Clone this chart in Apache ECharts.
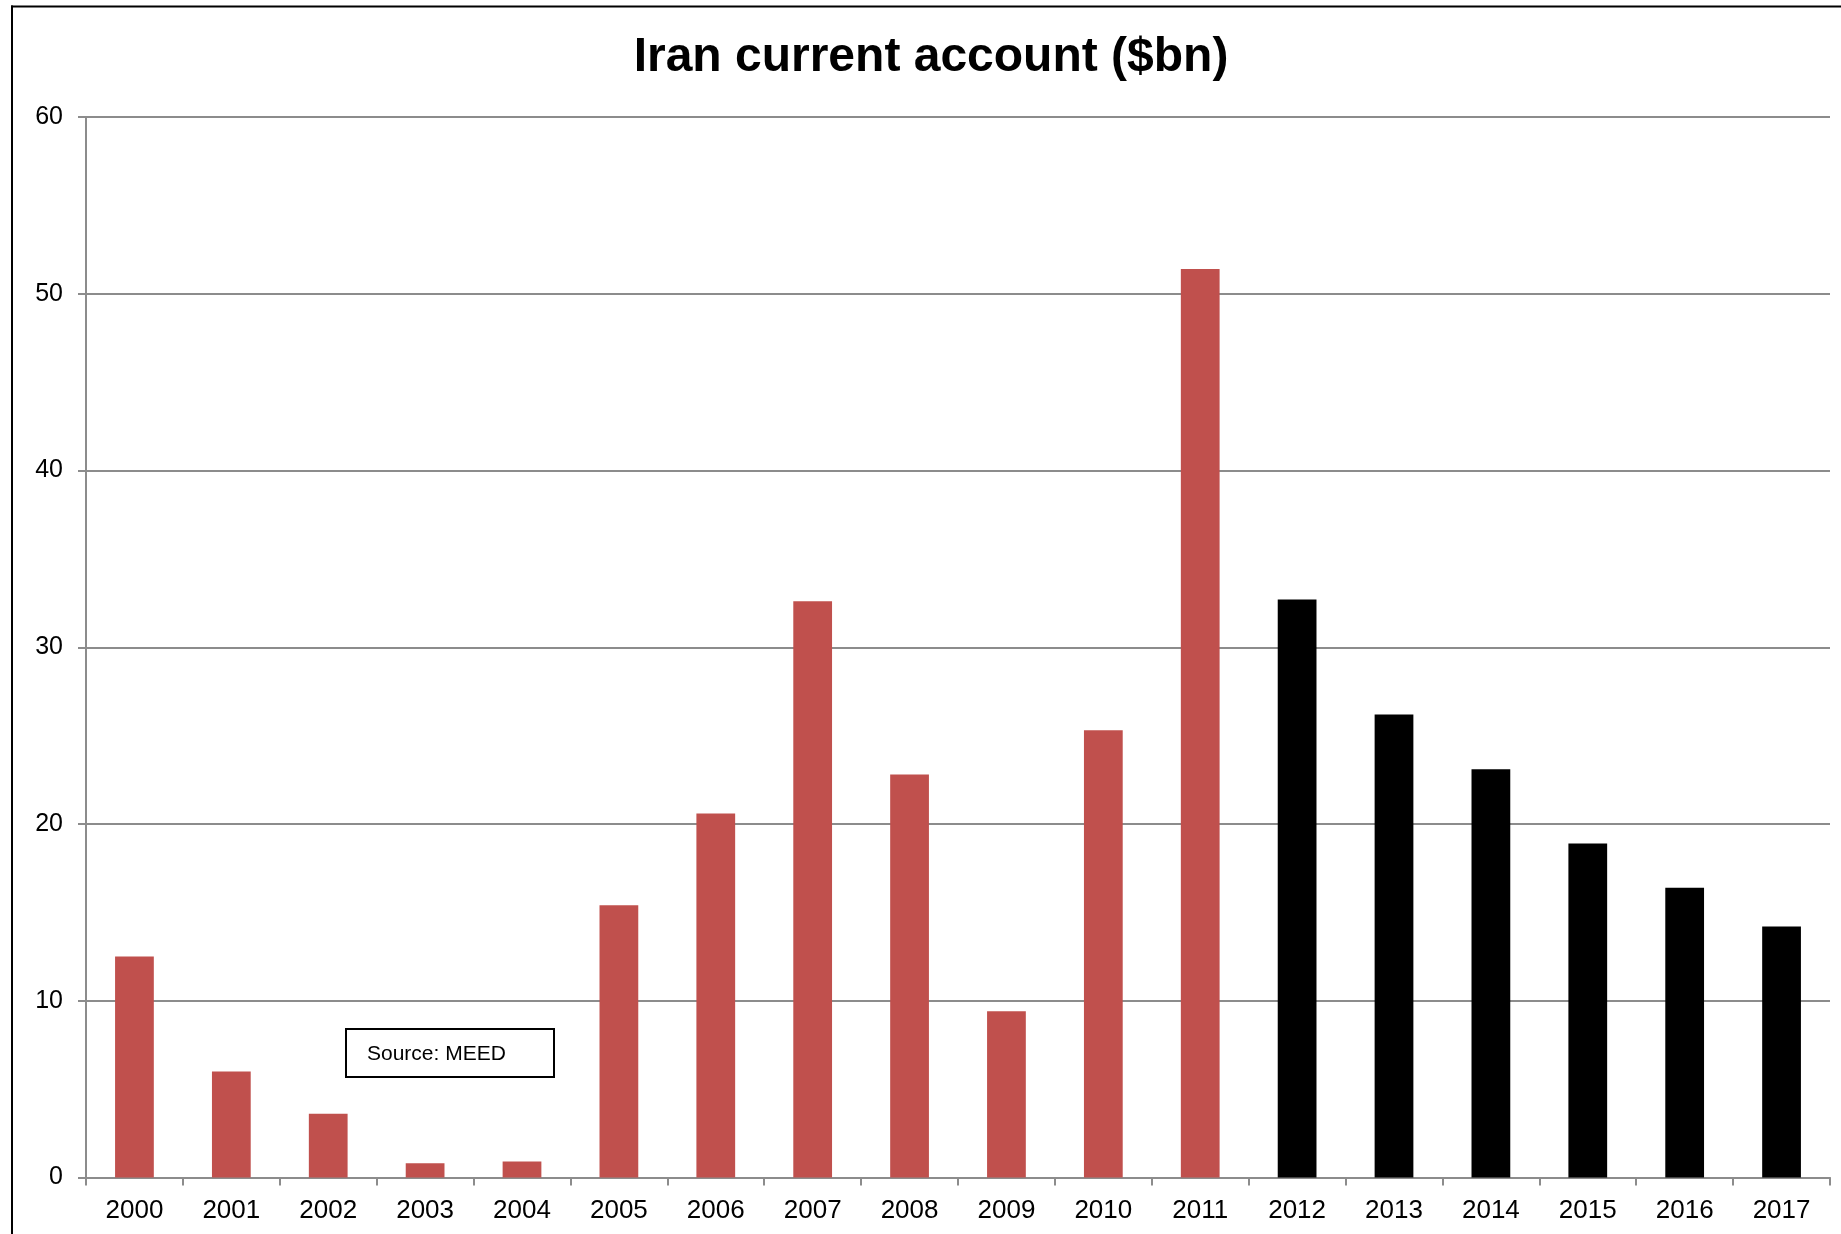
<!DOCTYPE html>
<html>
<head>
<meta charset="utf-8">
<script src="https://cdn.jsdelivr.net/npm/echarts@6/dist/echarts.min.js"></script>
<style>
  html, body { margin: 0; padding: 0; background: #fff; }
  #chart { width: 1841px; height: 1234px; }
</style>
</head>
<body>
<div id="chart"></div>
<script>
const titleText = 'Iran current account ($bn)';
const sourceText = 'Source: MEED';
const categories = ['2000','2001','2002','2003','2004','2005','2006','2007','2008','2009','2010','2011','2012','2013','2014','2015','2016','2017'];
const values = [12.5, 6.0, 3.6, 0.8, 0.9, 15.4, 20.6, 32.6, 22.8, 9.4, 25.3, 51.4, 32.7, 26.2, 23.1, 18.9, 16.4, 14.2];
const forecastFrom = '2012';
const yTicks = { min: 0, max: 60, interval: 10 };

const FONT = 'Liberation Sans, Arial, Helvetica, sans-serif';
const RED = '#C0504D';
const BLACK = '#000000';
const GRID_COLOR = '#8c8c8c';

const forecastIdx = categories.indexOf(forecastFrom);

const chart = echarts.init(document.getElementById('chart'), null, { renderer: 'canvas' });
chart.setOption({
  backgroundColor: '#ffffff',
  animation: false,
  title: {
    text: titleText,
    left: 931,
    top: 34,
    padding: 0,
    textAlign: 'center',
    textStyle: { fontFamily: FONT, fontSize: 48, fontWeight: 'bold', color: '#000' }
  },
  grid: { left: 86, right: 11, top: 117, bottom: 56.5, containLabel: false },
  xAxis: {
    type: 'category',
    data: categories,
    boundaryGap: true,
    axisLine: { show: true, lineStyle: { color: GRID_COLOR, width: 2 } },
    axisTick: { show: true, alignWithLabel: false, length: 8, lineStyle: { color: GRID_COLOR, width: 2 } },
    axisLabel: { color: '#000', fontFamily: FONT, fontSize: 26, margin: 20, interval: 0 },
    splitLine: { show: false }
  },
  yAxis: {
    type: 'value',
    min: yTicks.min,
    max: yTicks.max,
    interval: yTicks.interval,
    axisLine: { show: true, lineStyle: { color: GRID_COLOR, width: 2 } },
    axisTick: { show: true, inside: false, length: 8, lineStyle: { color: GRID_COLOR, width: 2 } },
    axisLabel: { color: '#000', fontFamily: FONT, fontSize: 25, margin: 23, padding: [4, 0, 0, 0] },
    splitLine: { show: true, lineStyle: { color: GRID_COLOR, width: 2 } }
  },
  series: [{
    type: 'bar',
    data: values.map((v, i) => ({
      value: v,
      itemStyle: { color: i >= forecastIdx ? BLACK : RED }
    })),
    barWidth: '40%'
  }],
  graphic: [
    { type: 'line', shape: { x1: 12, y1: 5.5, x2: 12, y2: 1234 }, style: { stroke: '#000', lineWidth: 2 }, z: 100 },
    { type: 'line', shape: { x1: 11, y1: 6.5, x2: 1841, y2: 6.5 }, style: { stroke: '#000', lineWidth: 2 }, z: 100 },
    {
      type: 'rect',
      shape: { x: 346, y: 1029, width: 208, height: 48 },
      style: { fill: '#fff', stroke: '#000', lineWidth: 2 },
      z: 100
    },
    {
      type: 'text',
      x: 367, y: 1054,
      style: { text: sourceText, fill: '#000', font: '21px ' + FONT, textVerticalAlign: 'middle', textAlign: 'left' },
      z: 101
    }
  ]
});
</script>
</body>
</html>
